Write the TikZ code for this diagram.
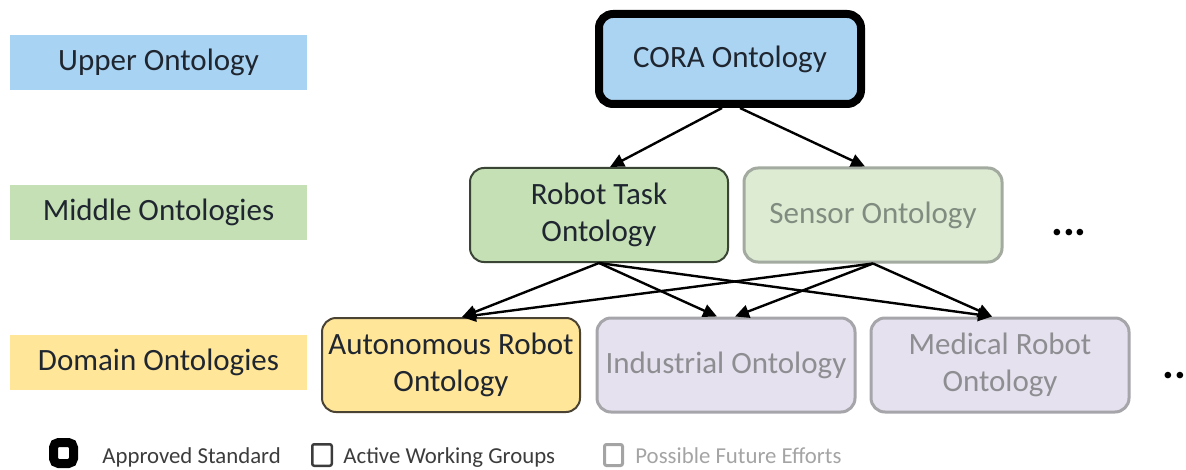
\documentclass[tikz,border=0pt]{standalone}
\usepackage{fontspec}
\setmainfont{Carlito}
\usetikzlibrary{arrows.meta}
\definecolor{upperblue}{HTML}{A9D3F2}
\definecolor{corablue}{HTML}{ABD4F3}
\definecolor{midgreen}{HTML}{C5E0B4}
\definecolor{rtborder}{HTML}{3A4535}
\definecolor{senfill}{HTML}{DDEBD3}
\definecolor{senborder}{HTML}{A3AAA0}
\definecolor{sentext}{HTML}{7F8C7F}
\definecolor{domyellow}{HTML}{FFE699}
\definecolor{autborder}{HTML}{4A4232}
\definecolor{lavfill}{HTML}{E5E1EE}
\definecolor{lavborder}{HTML}{A6A5AA}
\definecolor{lavtext}{HTML}{8E8E92}
\definecolor{darktext}{HTML}{1F2630}
\definecolor{legdark}{HTML}{3C3C3C}
\definecolor{leggray}{HTML}{A4A4A4}
\tikzset{
  mainfont/.style={font=\fontsize{15.5}{18.5}\selectfont},
  levellabel/.style={mainfont, text=darktext, minimum width=148.5pt, minimum height=27.5pt, inner sep=0pt},
  ontobox/.style={mainfont, rounded corners=7pt, minimum width=129pt, minimum height=47pt, align=center, inner sep=0pt},
  activebox/.style={ontobox, draw=rtborder, line width=1pt, text=darktext},
  futurebox/.style={ontobox, draw=lavborder, line width=1.5pt, fill=lavfill, text=lavtext},
  arr/.style={line width=1.2pt, -{Triangle[length=7pt,width=6.5pt]}},
  legtext/.style={font=\fontsize{11.4}{13}\selectfont, anchor=base west, inner sep=0pt},
  dotsnode/.style={font=\fontsize{22}{22}\selectfont\bfseries, inner sep=0pt, text=black}
}
\begin{document}
\begin{tikzpicture}[x=0.5pt,y=-0.5pt]
\useasboundingbox (0,0) rectangle (1186,470);
% level labels
\node[levellabel, fill=upperblue] (lu) at (158.5,62.5) {Upper Ontology};
\node[levellabel, fill=midgreen] (lm) at (158.5,212.5) {Middle Ontologies};
\node[levellabel, fill=domyellow] (ld) at (158.5,362.5) {Domain Ontologies};
% upper
\node[ontobox, draw=black, line width=4pt, fill=corablue, text=darktext, minimum width=131pt, minimum height=45pt] (cora) at (730,59) {CORA Ontology};
% middle
\node[activebox, fill=midgreen] (rt) at (599,215) {Robot Task\\Ontology};
\node[ontobox, draw=senborder, line width=1.5pt, fill=senfill, text=sentext] (sen) at (873,215) {Sensor Ontology};
\node[dotsnode] (d1) at (1069,233) {...};
% domain
\node[activebox, fill=domyellow, draw=autborder] (aut) at (451,365) {Autonomous Robot\\Ontology};
\node[futurebox] (ind) at (726,365) {Industrial Ontology};
\node[futurebox] (med) at (1000,365) {Medical Robot\\Ontology};
\node[dotsnode] (d2) at (1174,376) {..};
% connectors
\draw[arr] ([xshift=-4pt]cora.south) -- ([xshift=5.5pt]rt.north);
\draw[arr] ([xshift=5pt]cora.south) -- ([xshift=-4pt]sen.north);
\draw[arr] (rt.south) -- ([xshift=5.5pt]aut.north);
\draw[arr] (rt.south) -- ([xshift=-4.5pt]ind.north);
\draw[arr] (rt.south) -- ([xshift=-4pt]med.north);
\draw[arr] (sen.south) -- ([xshift=5.5pt]aut.north);
\draw[arr] (sen.south) -- ([xshift=4.5pt]ind.north);
\draw[arr] (sen.south) -- ([xshift=-4pt]med.north);
% legend
\node[draw=black, line width=4.5pt, rounded corners=2.5pt, minimum width=10pt, minimum height=10.5pt, inner sep=0pt] (k1) at (63.5,453) {};
\node[legtext, text=legdark] (t1) at (102,463) {Approved Standard};
\node[draw=legdark, line width=1.25pt, rounded corners=1pt, minimum width=9.75pt, minimum height=10.75pt, inner sep=0pt] (k2) at (322,455) {};
\node[legtext, text=legdark] (t2) at (343,463) {Active Working Groups};
\node[draw=leggray, line width=1.5pt, rounded corners=1pt, minimum width=9pt, minimum height=10.5pt, inner sep=0pt] (k3) at (613.5,455) {};
\node[legtext, text=leggray] (t3) at (635,463) {Possible Future Efforts};
\end{tikzpicture}
\end{document}
